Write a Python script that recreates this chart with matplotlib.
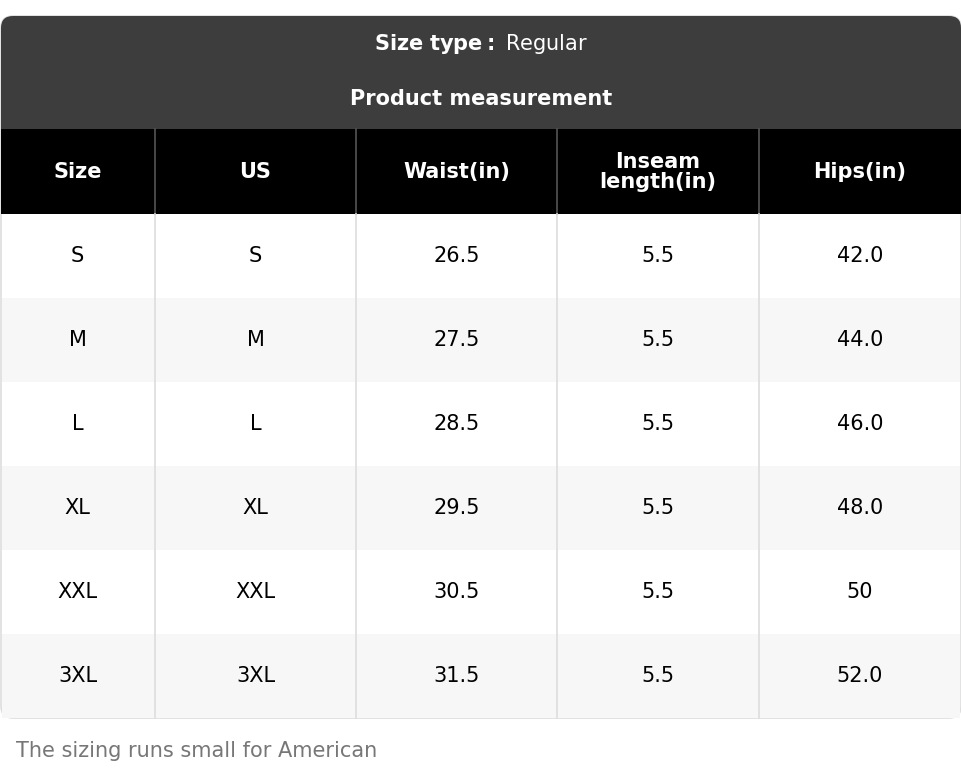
import matplotlib.pyplot as plt
from matplotlib.patches import FancyBboxPatch, Rectangle

size_type = "Regular"
title = "Product measurement"
columns = ["Size", "US", "Waist(in)", "Inseam\nlength(in)", "Hips(in)"]
sizes = ["S", "M", "L", "XL", "XXL", "3XL"]
us = ["S", "M", "L", "XL", "XXL", "3XL"]
waist = ["26.5", "27.5", "28.5", "29.5", "30.5", "31.5"]
inseam = ["5.5", "5.5", "5.5", "5.5", "5.5", "5.5"]
hips = ["42.0", "44.0", "46.0", "48.0", "50", "52.0"]
note = "The sizing runs small for American"

W, H = 962, 784
fig = plt.figure(figsize=(W / 100, H / 100), dpi=100)
ax = fig.add_axes([0, 0, 1, 1])
ax.set_xlim(0, W)
ax.set_ylim(H, 0)
ax.axis('off')

col_x = [0, 155, 356, 557, 759, 961]
top, head_top, data_top, row_h = 16, 129, 214, 84
bottom = data_top + row_h * len(sizes)

# outer rounded frame
ax.add_patch(FancyBboxPatch((1, top), 960, bottom - top, boxstyle="round,pad=0,rounding_size=12",
                            fc='white', ec='#dddddd', lw=1.2, zorder=0))
# dark title band with rounded top
ax.add_patch(FancyBboxPatch((1, top), 960, head_top - top, boxstyle="round,pad=0,rounding_size=12",
                            fc='#3d3d3d', ec='none', zorder=1))
ax.add_patch(Rectangle((1, head_top - 20), 960, 20, fc='#3d3d3d', ec='none', zorder=1))
ax.text(W / 2, 44, r"$\bf{Size\ type:}$ " + size_type, color='white', fontsize=15,
        ha='center', va='center', zorder=3)
ax.text(W / 2, 99, title, color='white', fontsize=15, fontweight='bold',
        ha='center', va='center', zorder=3)

# column header
ax.add_patch(Rectangle((1, head_top), 960, data_top - head_top, fc='black', ec='none', zorder=1))
for i, c in enumerate(columns):
    xc = (col_x[i] + col_x[i + 1]) / 2
    ax.text(xc, (head_top + data_top) / 2, c, color='white', fontsize=15, fontweight='bold',
            ha='center', va='center', linespacing=1.0, zorder=3)

rows = list(zip(sizes, us, waist, inseam, hips))
for r, row in enumerate(rows):
    y0 = data_top + r * row_h
    if r % 2 == 1:
        ax.add_patch(Rectangle((2, y0), 958, row_h, fc='#f7f7f7', ec='none', zorder=1))
    for i, v in enumerate(row):
        xc = (col_x[i] + col_x[i + 1]) / 2
        ax.text(xc, y0 + row_h / 2, v, color='black', fontsize=15, ha='center', va='center', zorder=3)

for x in col_x[1:-1]:
    ax.plot([x, x], [head_top, data_top], color='#555555', lw=1.2, zorder=2)
    ax.plot([x, x], [data_top, bottom], color='#dddddd', lw=1.2, zorder=2)

ax.text(16, 751, note, color='#777777', fontsize=15, ha='left', va='center')

fig.savefig("out.png", dpi=100)
